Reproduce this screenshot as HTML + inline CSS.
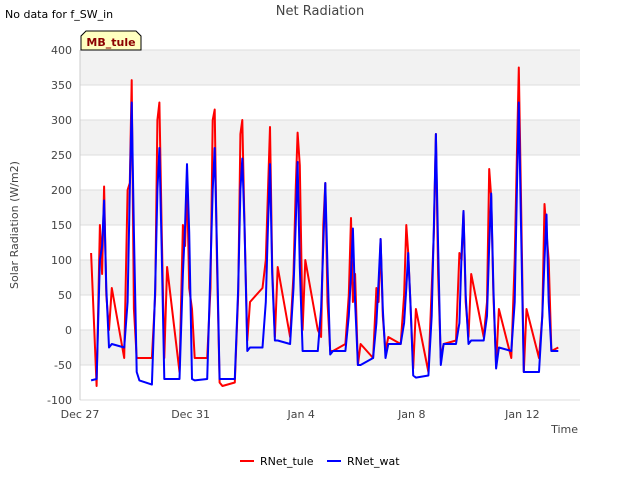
<!DOCTYPE html>
<html><head><meta charset="utf-8"><style>
body{margin:0;background:#fff;font-family:"Liberation Sans","DejaVu Sans",sans-serif;}
svg text{font-family:"DejaVu Sans","Liberation Sans",sans-serif;}
</style></head><body>
<svg id="chart" width="640" height="480" viewBox="0 0 640 480" xmlns="http://www.w3.org/2000/svg">
<text x="5" y="18" font-size="11" fill="#000">No data for f_SW_in</text>
<text x="320" y="15" font-size="13" fill="#444" text-anchor="middle">Net Radiation</text>
<g id="plot"></g>
<g>
<path d="M81,50 L81,36 L86,31 L136,31 L141,36 L141,50 Z" fill="#ffffc0" stroke="#000" stroke-width="1"/>
<text x="111" y="46" font-size="11" font-weight="bold" fill="#8b0000" text-anchor="middle">MB_tule</text>
</g>
<text transform="translate(18,225) rotate(-90)" font-size="11" fill="#444" text-anchor="middle">Solar Radiation (W/m2)</text>
<text x="578" y="433" font-size="11" fill="#444" text-anchor="end">Time</text>
<g>
<g><line x1="240" y1="461" x2="254" y2="461" stroke="#f00" stroke-width="2"/><text x="260" y="465" font-size="11" fill="#000">RNet_tule</text></g>
<g><line x1="327" y1="461" x2="341" y2="461" stroke="#00f" stroke-width="2"/><text x="347" y="465" font-size="11" fill="#000">RNet_wat</text></g>
</g>
</svg>
<script>
const yTicks=[-100,-50,0,50,100,150,200,250,300,350,400];
const xTickDays=[0,4,8,12,16];
const xTickLabels=["Dec 27","Dec 31","Jan 4","Jan 8","Jan 12"];
const times=[0.4,0.6,0.72,0.8,0.87,0.95,1.05,
1.15,1.6,1.72,1.8,1.87,1.95,2.05, 2.15,2.6,2.72,2.8,2.87,2.95,3.05,
3.15,3.6,3.72,3.8,3.87,3.95,4.05, 4.15,4.6,4.72,4.8,4.87,4.95,5.05,
5.15,5.6,5.72,5.8,5.87,5.95,6.05, 6.15,6.6,6.72,6.8,6.87,6.95,7.05,
7.15,7.6,7.72,7.8,7.87,7.95,8.05, 8.15,8.6,8.72,8.8,8.87,8.95,9.05,
9.15,9.6,9.72,9.8,9.87,9.95,10.05, 10.15,10.6,10.72,10.8,10.87,10.95,11.05,
11.15,11.6,11.72,11.8,11.87,11.95,12.05, 12.15,12.6,12.72,12.8,12.87,12.95,13.05,
13.15,13.6,13.72,13.8,13.87,13.95,14.05, 14.15,14.6,14.72,14.8,14.87,14.95,15.05,
15.15,15.6,15.72,15.8,15.87,15.95,16.05, 16.15,16.6,16.72,16.8,16.87,16.95,17.05,17.3];
const rnetWat=[-72,-70,100,120,185,60,-25,
-20,-25,40,200,325,140,-60, -72,-78,60,200,260,120,-70,
-70,-70,80,150,237,140,-70, -72,-70,90,200,260,120,-70,
-70,-70,60,200,245,150,-30, -25,-25,40,150,237,80,-15,
-15,-20,60,150,240,90,-30, -30,-30,30,120,210,90,-35,
-30,-30,20,80,145,40,-50, -50,-40,10,70,130,30,-40,
-20,-20,10,60,110,40,-65, -68,-65,20,150,280,120,-50,
-20,-20,10,110,170,50,-20, -15,-15,20,120,195,60,-55,
-25,-30,40,200,325,150,-60, -60,-60,20,100,165,40,-30,-30];
const rnetTule=[110,-80,150,80,205,50,0,
60,-40,200,210,357,30,-40, -40,-40,50,300,325,150,-40,
90,-60,150,120,215,60,30, -40,-40,60,300,315,100,-75,
-80,-75,50,280,300,150,-15, 40,60,100,200,290,90,-10,
90,-10,80,200,282,235,0, 100,0,-10,150,210,40,-30,
-30,-20,50,160,40,80,-50, -20,-40,60,40,130,20,-30,
-10,-20,50,150,110,40,-55, 30,-60,60,140,280,80,-40,
-20,-15,110,100,170,40,-10, 80,-10,40,230,190,50,-50,
30,-40,100,250,375,190,-60, 30,-40,20,180,140,100,-30,-25];
const NS="http://www.w3.org/2000/svg";
const X0=80,X1=580,Y0=400,Y1=50,PXDAY=27.65;
function xs(d){return X0+d*PXDAY;}
function ys(v){return Y0-(v+100)*(Y0-Y1)/500;}
const g=document.getElementById('plot');
function mk(t,a){const e=document.createElementNS(NS,t);for(const k in a)e.setAttribute(k,a[k]);g.appendChild(e);return e;}
for(let i=0;i<yTicks.length-1;i++){
 if(i%2===1){const r=mk('rect',{x:X0,y:ys(yTicks[i+1]),width:X1-X0,height:ys(yTicks[i])-ys(yTicks[i+1]),fill:'#f2f2f2'});
 
 }
}
yTicks.forEach(v=>{
 const l=mk('line',{x1:X0,x2:X1,y1:ys(v),y2:ys(v),stroke:'#ddd','stroke-width':1});
 
 
 const t=mk('text',{x:X0-8,y:ys(v)+4,'font-size':11,fill:'#444','text-anchor':'end'});
 t.textContent=v;
 
 
});
const ax=mk('line',{x1:X0,x2:X0,y1:Y1,y2:Y0,stroke:'#ccc'});


xTickDays.forEach((d,i)=>{
 const t=mk('text',{x:xs(d),y:Y0+18,'font-size':11,fill:'#444','text-anchor':'middle'});
 t.textContent=xTickLabels[i];
 
 
});
function line(vals,col,name){
 const p=mk('polyline',{points:vals.map((v,i)=>xs(times[i]).toFixed(1)+','+ys(v).toFixed(1)).join(' '),fill:'none',stroke:col,'stroke-width':2,'stroke-linejoin':'round'});
 
 
}
line(rnetTule,'#f00','series-rnet-tule');
line(rnetWat,'#00f','series-rnet-wat');
</script>
</body></html>
